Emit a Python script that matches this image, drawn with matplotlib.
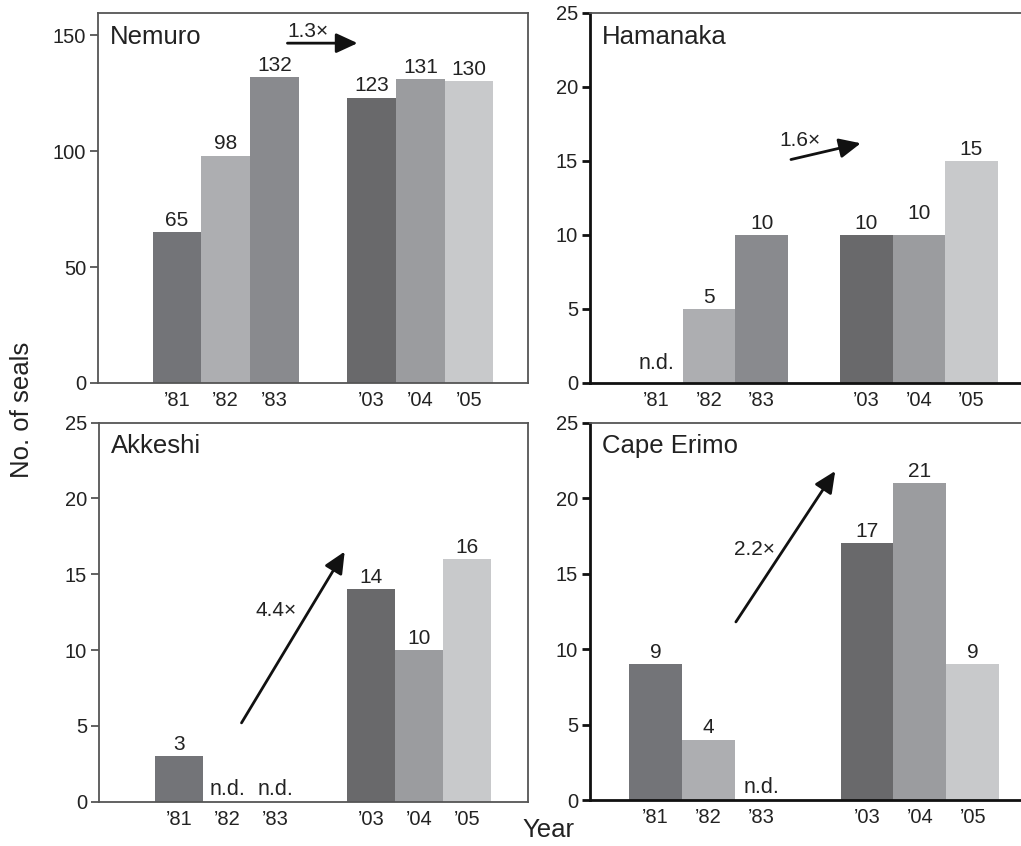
import numpy as np
import matplotlib
matplotlib.use("Agg")
import matplotlib.pyplot as plt

plt.rcParams['font.family'] = ['Liberation Sans', 'DejaVu Sans']

years = ["\u201981", "\u201982", "\u201983", "\u201903", "\u201904", "\u201905"]
positions = [0, 1, 2, 4, 5, 6]
bar_colors = ["#737478", "#adaeb1", "#898a8e", "#69696b", "#9b9c9f", "#c8c9cb"]

sites = ["Nemuro", "Hamanaka", "Akkeshi", "Cape Erimo"]
nemuro = [65, 98, 132, 123, 131, 130]
hamanaka = [np.nan, 5, 10, 10, 10, 15]
akkeshi = [3, np.nan, np.nan, 14, 10, 16]
cape_erimo = [9, 4, np.nan, 17, 21, 9]
series = [nemuro, hamanaka, akkeshi, cape_erimo]

ratio_labels = ["1.3\u00d7", "1.6\u00d7", "4.4\u00d7", "2.2\u00d7"]
# arrow start, arrow end, label position (data coords)
arrow_start = [(2.27, 146.5), (2.56, 15.1), (1.30, 5.2), (1.52, 11.8)]
arrow_end = [(3.71, 146.5), (3.89, 16.2), (3.45, 16.5), (3.40, 21.8)]
label_pos = [(2.69, 151.5), (2.73, 16.4), (2.03, 12.6), (1.88, 16.6)]

ylims = [(0, 159.5), (0, 25), (0, 25), (0, 25)]
yticks = [[0, 50, 100, 150], [0, 5, 10, 15, 20, 25], [0, 5, 10, 15, 20, 25], [0, 5, 10, 15, 20, 25]]
xlims = [(-1.62, 7.21), (-1.27, 7.02), (-1.67, 7.27), (-1.24, 6.99)]

W, H = 1021, 846
# axes boxes in pixels: left, top, right, bottom
boxes = [(98, 13, 528, 383), (590, 13, 1025, 383), (99, 422.7, 528, 801.7), (590, 422.7, 1025, 800)]
dark_frame = [False, True, False, True]

fig = plt.figure(figsize=(W / 100, H / 100), dpi=100)

for i in range(4):
    l, t, r, b = boxes[i]
    ax = fig.add_axes([l / W, 1 - b / H, (r - l) / W, (b - t) / H])
    vals = series[i]
    ax.bar(positions, np.nan_to_num(vals), width=1.0, color=bar_colors, edgecolor='none', zorder=2)
    ax.set_xlim(*xlims[i])
    ax.set_ylim(*ylims[i])
    ax.set_yticks(yticks[i])
    ax.set_xticks(positions)
    ax.set_xticklabels(years)
    frame_col = '#111111' if dark_frame[i] else '#555555'
    for s in ['top', 'right']:
        ax.spines[s].set_color('#555555')
        ax.spines[s].set_linewidth(1.3)
    for s in ['left', 'bottom']:
        ax.spines[s].set_color(frame_col)
        ax.spines[s].set_linewidth(2.0 if dark_frame[i] else 1.3)
    ax.tick_params(axis='x', length=0, pad=6, labelsize=14.5, colors='#222222')
    ax.tick_params(axis='y', length=5.5, width=2.0 if dark_frame[i] else 1.3,
                   color=frame_col, pad=3, labelsize=14.5, labelcolor='#222222')
    for p, v in zip(positions, vals):
        if np.isnan(v):
            off = 10 if i == 1 else 5
            ax.annotate("n.d.", (p, 0), xytext=(0, off), textcoords='offset points',
                        ha='center', va='baseline', fontsize=15.5, color='#222222')
        else:
            extra = 7 if (i == 1 and p == 5) else 0
            ax.annotate(f"{v:g}", (p, v), xytext=(0, 4.5 + extra), textcoords='offset points',
                        ha='center', va='baseline', fontsize=15, color='#222222')
    ax.annotate(sites[i], (0, 1), xycoords='axes fraction', xytext=(8.5, -22),
                textcoords='offset points', ha='left', va='baseline', fontsize=18.5, color='#222222')
    ax.annotate("", xy=arrow_end[i], xytext=arrow_start[i],
                arrowprops=dict(arrowstyle='-|>,head_length=0.65,head_width=0.3',
                                mutation_scale=20, lw=2, color='#111111',
                                shrinkA=0, shrinkB=0), zorder=3)
    ax.text(label_pos[i][0], label_pos[i][1], ratio_labels[i], ha='center', va='center',
            fontsize=15, color='#222222')

fig.text(22 / W, 1 - 410 / H, "No. of seals", rotation=90, ha='center', va='center',
         fontsize=18.5, color='#222222')
fig.text(548 / W, 1 - 830 / H, "Year", ha='center', va='center', fontsize=18.5, color='#222222')

fig.savefig("out.png", dpi=100)
